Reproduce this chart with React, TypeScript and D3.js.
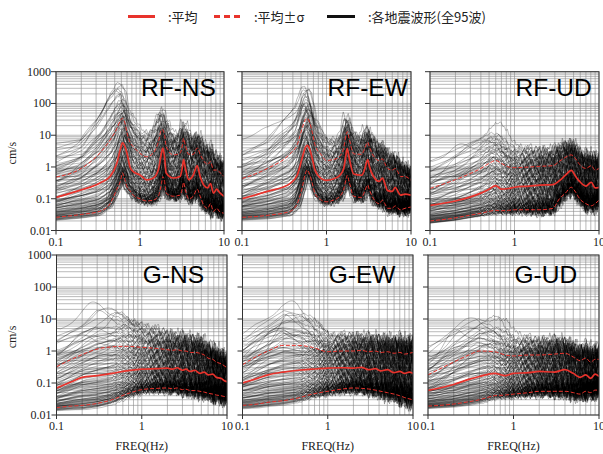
import React from 'react';
import * as d3 from 'd3';

const W = 603;
const H = 454;

// ---------- data ----------
const fRFNS = [0.1, 0.2, 0.33, 0.44, 0.53, 0.58, 0.62, 0.66, 0.7, 0.76, 0.83, 1.0, 1.2, 1.43, 1.65, 1.8, 1.87, 1.96, 2.05, 2.5, 3.0, 3.2, 3.3, 3.45, 3.8, 4.3, 4.8, 5.2, 5.8, 6.4, 6.9, 7.5, 8.2, 8.8, 10];
const meanRFNS = [0.11, 0.19, 0.31, 0.5, 1.3, 3.4, 5.8, 4.5, 2.7, 1.0, 0.71, 0.56, 0.39, 0.44, 0.8, 2.7, 3.9, 2.1, 0.65, 0.45, 0.5, 1.0, 1.7, 1.0, 0.4, 0.55, 1.1, 0.5, 0.26, 0.22, 0.3, 0.15, 0.2, 0.16, 0.12];
const upRFNS = [0.48, 0.9, 2.7, 7, 16, 28, 34, 25, 12, 6, 4.4, 2.7, 2.1, 2.7, 6, 14.6, 15, 10, 4.4, 2.4, 2.7, 5, 8, 5, 2.5, 2.5, 4, 2.5, 1.5, 1.2, 1.5, 0.8, 0.8, 0.7, 0.5];
const downRFNS = [0.026, 0.032, 0.04, 0.07, 0.2, 0.34, 0.65, 0.4, 0.24, 0.18, 0.13, 0.1, 0.085, 0.09, 0.12, 0.3, 0.5, 0.35, 0.15, 0.12, 0.13, 0.22, 0.33, 0.2, 0.1, 0.12, 0.2, 0.12, 0.06, 0.05, 0.07, 0.04, 0.05, 0.04, 0.035];

const fRFEW = [0.1, 0.2, 0.37, 0.45, 0.52, 0.56, 0.59, 0.63, 0.68, 0.73, 0.87, 1.0, 1.2, 1.44, 1.6, 1.7, 1.76, 1.85, 2.1, 2.6, 2.85, 3.0, 3.08, 3.2, 3.6, 4.2, 4.6, 4.9, 5.3, 6.0, 6.5, 7.0, 7.5, 8.5, 10];
const meanRFEW = [0.1, 0.17, 0.3, 0.55, 2.1, 4.0, 4.8, 3.8, 1.8, 0.8, 0.43, 0.38, 0.42, 0.55, 0.9, 2.4, 3.8, 2.0, 0.6, 0.55, 0.9, 1.5, 1.7, 1.1, 0.5, 0.35, 0.45, 0.3, 0.18, 0.17, 0.23, 0.17, 0.13, 0.14, 0.13];
const upRFEW = [0.43, 0.9, 2.6, 5, 18, 30, 34, 26, 12, 5, 2.4, 1.6, 1.7, 2.2, 4, 10, 13, 8, 2.6, 2.5, 4, 5.5, 6, 4.5, 2.2, 1.6, 1.8, 1.3, 0.9, 0.8, 0.9, 0.7, 0.5, 0.5, 0.38];
const downRFEW = [0.026, 0.03, 0.04, 0.07, 0.25, 0.6, 0.8, 0.6, 0.3, 0.15, 0.09, 0.08, 0.09, 0.12, 0.2, 0.4, 0.55, 0.35, 0.12, 0.11, 0.18, 0.25, 0.27, 0.2, 0.1, 0.07, 0.09, 0.07, 0.05, 0.05, 0.06, 0.05, 0.045, 0.05, 0.055];

const fRFUD = [0.1, 0.2, 0.29, 0.4, 0.5, 0.6, 0.7, 0.85, 1.0, 1.5, 2.0, 2.85, 3.4, 4.0, 4.7, 5.3, 5.9, 7.0, 8.1, 9.0, 10];
const meanRFUD = [0.062, 0.085, 0.11, 0.15, 0.2, 0.26, 0.2, 0.21, 0.23, 0.25, 0.27, 0.28, 0.37, 0.55, 0.78, 0.5, 0.35, 0.25, 0.33, 0.22, 0.23];
const upRFUD = [0.21, 0.4, 0.6, 0.9, 1.3, 1.6, 1.3, 1.0, 0.95, 1.0, 1.05, 1.1, 1.5, 2.0, 2.4, 1.8, 1.2, 0.9, 1.1, 0.8, 0.9];
const downRFUD = [0.02, 0.025, 0.03, 0.035, 0.04, 0.043, 0.042, 0.043, 0.045, 0.045, 0.045, 0.05, 0.1, 0.15, 0.23, 0.16, 0.1, 0.07, 0.06, 0.07, 0.09];

const fGNS = [0.1, 0.15, 0.2, 0.3, 0.45, 0.66, 1.0, 1.5, 2.0, 2.3, 2.6, 3.0, 3.3, 3.7, 4.2, 4.8, 5.4, 6.0, 6.8, 7.5, 8.5, 9.2, 10];
const meanGNS = [0.07, 0.11, 0.15, 0.17, 0.2, 0.24, 0.27, 0.28, 0.29, 0.27, 0.3, 0.25, 0.27, 0.23, 0.25, 0.2, 0.22, 0.18, 0.19, 0.15, 0.14, 0.12, 0.11];
const upGNS = [0.32, 0.55, 0.77, 1.15, 1.35, 1.4, 1.3, 1.2, 1.1, 1.05, 1.1, 1.0, 1.0, 0.9, 0.9, 0.85, 0.75, 0.6, 0.55, 0.45, 0.4, 0.35, 0.3];
const downGNS = [0.017, 0.019, 0.02, 0.023, 0.03, 0.045, 0.062, 0.068, 0.07, 0.066, 0.07, 0.062, 0.064, 0.058, 0.058, 0.055, 0.052, 0.048, 0.045, 0.042, 0.04, 0.038, 0.037];

const fGEW = [0.1, 0.15, 0.2, 0.3, 0.45, 0.66, 1.0, 1.5, 2.0, 2.5, 3.0, 3.6, 4.2, 5.0, 6.0, 7.0, 8.0, 9.0, 10];
const meanGEW = [0.1, 0.14, 0.18, 0.22, 0.25, 0.27, 0.29, 0.3, 0.29, 0.31, 0.26, 0.28, 0.24, 0.26, 0.21, 0.23, 0.2, 0.22, 0.2];
const upGEW = [0.37, 0.7, 1.0, 1.5, 1.5, 1.3, 0.95, 1.0, 1.0, 1.05, 0.95, 1.0, 0.9, 0.95, 0.85, 0.9, 0.8, 0.85, 0.9];
const downGEW = [0.02, 0.022, 0.025, 0.028, 0.034, 0.045, 0.055, 0.065, 0.07, 0.068, 0.065, 0.06, 0.055, 0.05, 0.045, 0.04, 0.035, 0.032, 0.03];

const fGUD = [0.1, 0.2, 0.3, 0.4, 0.6, 0.8, 1.0, 1.5, 2.0, 3.0, 4.0, 5.0, 6.0, 7.0, 8.0, 9.0, 10];
const meanGUD = [0.059, 0.09, 0.13, 0.16, 0.2, 0.17, 0.2, 0.21, 0.23, 0.22, 0.26, 0.2, 0.15, 0.18, 0.14, 0.19, 0.16];
const upGUD = [0.18, 0.45, 0.75, 1.0, 0.95, 0.75, 0.7, 0.75, 0.75, 0.8, 0.85, 0.65, 0.5, 0.6, 0.45, 0.55, 0.55];
const downGUD = [0.019, 0.022, 0.026, 0.03, 0.04, 0.042, 0.045, 0.05, 0.055, 0.055, 0.055, 0.05, 0.045, 0.055, 0.05, 0.06, 0.06];

// level of each of the 95 individual records relative to the mean, in sigma units
const waveZ = [
  -1.15, -1.12, -1.1, -1.08, -1.06, -1.04, -1.02, -1.0, -0.98, -0.96,
  -0.94, -0.92, -0.9, -0.88, -0.86, -0.84, -0.82, -0.8, -0.78, -0.75,
  -0.72, -0.69, -0.66, -0.63, -0.6, -0.56, -0.52, -0.48, -0.44, -0.4,
  -0.36, -0.32, -0.28, -0.24, -0.2, -0.16, -0.12, -0.08, -0.04, 0.0,
  0.05, 0.1, 0.15, 0.2, 0.25, 0.3, 0.35, 0.4, 0.45, 0.5,
  0.55, 0.6, 0.65, 0.7, 0.75, 0.8, 0.85, 0.9, 0.95, 1.0,
  1.05, 1.1, 1.15, 1.2, 1.26, 1.32, 1.38, 1.44, 1.5, 1.57,
  1.64, 1.72, 1.8, 1.9, 2.0, 2.1, 2.2, 2.3, -1.13, -1.07,
  -1.01, -0.97, -0.91, -0.85, -0.77, -0.7, -0.58, -0.46, -0.3, -0.14,
  0.08, 0.32, 0.62, 0.92, 1.22,
];
// per-record frequency shift of the resonance peaks
const waveShift = [1.0, 0.94, 1.05, 0.97, 1.08, 0.92, 1.02, 0.96, 1.04, 0.9, 1.0, 1.06, 0.95, 0.98, 1.1, 0.93, 1.03, 0.99, 1.07];
// per-record low-frequency tilt (log10 units per decade below 0.5 Hz)
const waveTilt = [0.0, 0.3, -0.2, 0.5, -0.4, 0.1, 0.6, -0.1, 0.2, -0.5, 0.4, -0.3, 0.0, 0.7, -0.2, 0.3, -0.6];
// per-record hump centre (log10 Hz) and height (log10 units) for the strong records
const humpCentre = [-0.7, -0.5, -0.3, -0.15, -0.6, -0.4, -0.2, -0.55, -0.35, -0.1, -0.65, -0.25, -0.45];
const humpHeight = [0.3, 0.0, 0.5, 0.2, 0.0, 0.4, 0.1, 0.6, 0.0, 0.25, 0.35];
// roughness pattern of the records (log10 units, scaled per panel)
const jitter = [0.3, -0.5, 0.8, -0.2, -0.9, 0.4, 0.1, -0.6, 0.7, 0.9, -0.3, -0.8, 0.5, 0.2, -0.4, 0.6, -1.0, 0.0, 0.8, -0.7, 0.3, -0.1, 0.9, -0.5, -0.3, 0.6, 0.4, -0.9, 0.2, -0.6, 1.0, -0.2, 0.5, -0.8, 0.1, 0.7, -0.4];

const xTicks = [0.1, 1, 10];
const yTicks = [0.01, 0.1, 1, 10, 100, 1000];
const yTickLabels = ['0.01', '0.1', '1', '10', '100', '1000'];

type P = {
  name: string; f: number[]; mean: number[]; up: number[]; down: number[];
  x0: number; x1: number; y0: number; y1: number; rough: number; roughStart: number; first: boolean; bottom: boolean;
};

const TOP0 = 71.7, TOP1 = 230.5, BOT0 = 255, BOT1 = 415;
const panels: P[] = [
  { name: 'RF-NS', f: fRFNS, mean: meanRFNS, up: upRFNS, down: downRFNS, x0: 56, x1: 224, y0: TOP0, y1: TOP1, rough: 0.29, roughStart: -0.5, first: true, bottom: false },
  { name: 'RF-EW', f: fRFEW, mean: meanRFEW, up: upRFEW, down: downRFEW, x0: 242, x1: 411, y0: TOP0, y1: TOP1, rough: 0.29, roughStart: -0.5, first: false, bottom: false },
  { name: 'RF-UD', f: fRFUD, mean: meanRFUD, up: upRFUD, down: downRFUD, x0: 430, x1: 599, y0: TOP0, y1: TOP1, rough: 0.33, roughStart: -0.5, first: false, bottom: false },
  { name: 'G-NS', f: fGNS, mean: meanGNS, up: upGNS, down: downGNS, x0: 56.5, x1: 227, y0: BOT0, y1: BOT1, rough: 0.37, roughStart: -0.4, first: true, bottom: true },
  { name: 'G-EW', f: fGEW, mean: meanGEW, up: upGEW, down: downGEW, x0: 242.5, x1: 413, y0: BOT0, y1: BOT1, rough: 0.37, roughStart: -0.4, first: false, bottom: true },
  { name: 'G-UD', f: fGUD, mean: meanGUD, up: upGUD, down: downGUD, x0: 428, x1: 599, y0: BOT0, y1: BOT1, rough: 0.37, roughStart: -0.4, first: false, bottom: true },
];

const RED = '#e8332c';
const L10 = Math.log10;

function logInterp(fs: number[], vs: number[], f: number): number {
  const lf = L10(f);
  if (f <= fs[0]) return L10(vs[0]);
  for (let k = 1; k < fs.length; k++) {
    if (f <= fs[k]) {
      const a = L10(fs[k - 1]), b = L10(fs[k]);
      const t = (lf - a) / (b - a);
      return L10(vs[k - 1]) * (1 - t) + L10(vs[k]) * t;
    }
  }
  return L10(vs[vs.length - 1]);
}

function jit(p: number): number {
  const n = jitter.length;
  const i = Math.floor(p);
  const t = p - i;
  const a = jitter[((i % n) + n) % n];
  const b = jitter[(((i + 1) % n) + n) % n];
  return a * (1 - t) + b * t;
}

const clamp01 = (v: number) => Math.max(0, Math.min(1, v));

function Panel({ p, idx }: { p: P; idx: number }) {
  const x = d3.scaleLog().domain([0.1, 10]).range([p.x0, p.x1]);
  const y = d3.scaleLog().domain([0.01, 1000]).range([p.y1, p.y0]);
  const N = 300;
  const line = d3.line<[number, number]>().x(d => x(d[0])).y(d => y(d[1]));
  const smooth = d3.line<number>().x((_, k) => x(p.f[k])).y(d => y(d)).curve(d3.curveMonotoneX);
  const isRF = p.name.startsWith('RF');

  const waves: string[] = waveZ.map((z, i) => {
    const s = waveShift[(i + idx * 3) % waveShift.length];
    const tilt = waveTilt[(i + idx * 5) % waveTilt.length];
    const hc = humpCentre[(i + idx * 2) % humpCentre.length];
    const hh = humpHeight[(i + idx) % humpHeight.length] * (isRF ? 0.6 : 1);
    const rate = 0.28 + (i % 5) * 0.05;
    const pts: [number, number][] = [];
    const wUp = clamp01((z + 0.8) / 1.5);
    const wHump = clamp01((z - 0.3) / 1.2);
    for (let j = 0; j < N; j++) {
      const lf = -1 + (2 * j) / (N - 1);
      const f = Math.pow(10, lf);
      const fe = Math.max(0.1, Math.min(10, f * s));
      const m = logInterp(p.f, p.mean, fe);
      const u = logInterp(p.f, p.up, fe) - m;
      const d = m - logInterp(p.f, p.down, fe);
      let zf = z;
      if (z > 1.2) zf = z - (z - 1.2) * 0.6 * clamp01((lf + 0.5) / 1.5);
      let base = m + (zf >= 0 ? zf * u : zf * d);
      base += tilt * wUp * Math.max(0, -0.3 - lf);
      base += hh * wHump * Math.exp(-Math.pow((lf - hc) / 0.15, 2));
      const amp = p.rough * clamp01((lf - p.roughStart) / (1 - p.roughStart));
      const v = base + amp * jit(j * rate + i * 5);
      pts.push([f, Math.pow(10, v)]);
    }
    return line(pts) || '';
  });

  const hGrid: number[] = [];
  for (const dec of [0.01, 0.1, 1, 10, 100]) for (let k = 1; k <= 9; k++) hGrid.push(dec * k);
  hGrid.push(1000);
  const vGrid: number[] = [];
  for (const dec of [0.1, 1]) for (let k = 1; k <= 9; k++) vGrid.push(dec * k);
  vGrid.push(10);
  const clipId = `clip${idx}`;
  const labelY = p.bottom ? p.y0 + 27.5 : p.y0 + 24.5;

  return (
    <g>
      <defs>
        <clipPath id={clipId}>
          <rect x={p.x0} y={p.y0} width={p.x1 - p.x0} height={p.y1 - p.y0} />
        </clipPath>
      </defs>
      <rect x={p.x0} y={p.y0} width={p.x1 - p.x0} height={p.y1 - p.y0} fill="#fff" />
      <g stroke="#8a8a8a" strokeWidth={0.6}>
        {hGrid.map((v, k) => (
          <line key={'h' + k} x1={p.x0} x2={p.x1} y1={y(v)} y2={y(v)} />
        ))}
        {vGrid.map((v, k) => (
          <line key={'v' + k} x1={x(v)} x2={x(v)} y1={p.y0} y2={p.y1} />
        ))}
      </g>
      <g clipPath={`url(#${clipId})`}>
        <g fill="none" stroke="#000" strokeWidth={0.42} strokeOpacity={0.65}>
          {waves.map((d, k) => <path key={k} d={d} />)}
        </g>
        <path d={smooth(p.up) || ''} fill="none" stroke={RED} strokeWidth={1} strokeDasharray="4,2" />
        <path d={smooth(p.down) || ''} fill="none" stroke={RED} strokeWidth={1} strokeDasharray="4,2" />
        <path d={smooth(p.mean) || ''} fill="none" stroke={RED} strokeWidth={1.7} />
      </g>
      <rect x={p.x0} y={p.y0} width={p.x1 - p.x0} height={p.y1 - p.y0} fill="none" stroke="#333" strokeWidth={1} />
      <g stroke="#333" strokeWidth={1}>
        {yTicks.map((v, k) => (
          <line key={'yt' + k} x1={p.x0 - 5} x2={p.x0} y1={y(v)} y2={y(v)} />
        ))}
        {xTicks.map((v, k) => (
          <line key={'xt' + k} x1={x(v)} x2={x(v)} y1={p.y1} y2={p.y1 + 4} />
        ))}
      </g>
      <g fontFamily="'Liberation Serif', serif" fontSize={12} fill="#222">
        {p.first && yTicks.map((v, k) => (
          <text key={'yl' + k} x={p.x0 - 5} y={y(v) + 4} textAnchor="end">{yTickLabels[k]}</text>
        ))}
        {xTicks.map((v, k) => (
          <text key={'xl' + k} x={x(v)} y={p.y1 + 15} textAnchor="middle">{String(v)}</text>
        ))}
        {p.first && (
          <text transform={`translate(16,${(p.y0 + p.y1) / 2 + 2}) rotate(-90)`} textAnchor="middle">cm/s</text>
        )}
        {p.bottom && (
          <text x={(p.x0 + p.x1) / 2} y={450} textAnchor="middle">FREQ(Hz)</text>
        )}
      </g>
      <text x={x(1) + 1} y={labelY} fontFamily="'Liberation Sans', Arial, sans-serif" fontSize={24.5} fill="#000">{p.name}</text>
    </g>
  );
}

export default function App() {
  const cjk = "'Noto Sans CJK JP', 'Noto Sans CJK SC', sans-serif";
  return (
    <svg width={W} height={H} viewBox={`0 0 ${W} ${H}`} style={{ position: 'absolute', left: 0, top: 0, background: '#fff' }}>
      <rect width={W} height={H} fill="#fff" />
      <g fontFamily={cjk} fontSize={13} fill="#222">
        <line x1={128} x2={155} y1={16.5} y2={16.5} stroke={RED} strokeWidth={3} />
        <text x={168} y={21.5}>:平均</text>
        <line x1={214} x2={241} y1={16.5} y2={16.5} stroke={RED} strokeWidth={3} strokeDasharray="6,4" />
        <text x={254} y={21.5}>:平均±σ</text>
        <line x1={327} x2={355} y1={16.5} y2={16.5} stroke="#111" strokeWidth={3} />
        <text x={368} y={21.5}>:各地震波形(全95波)</text>
      </g>
      {panels.map((p, i) => <Panel key={i} p={p} idx={i} />)}
    </svg>
  );
}
